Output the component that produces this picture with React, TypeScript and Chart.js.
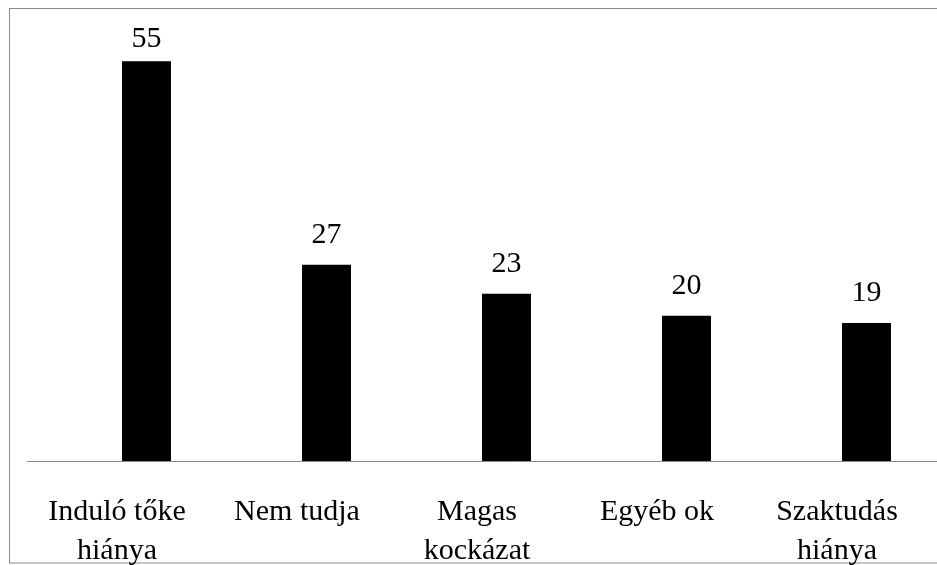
import React, { useEffect, useRef } from "react";
import { Chart, registerables } from "chart.js";

Chart.register(...registerables);

const categories: string[][] = [
  ["Induló tőke", "hiánya"],
  ["Nem tudja"],
  ["Magas", "kockázat"],
  ["Egyéb ok"],
  ["Szaktudás", "hiánya"],
];
const values: number[] = [55, 27, 23, 20, 19];

const FONT = "'Liberation Serif', 'Times New Roman', serif";

const framePlugin = {
  id: "frameAndLabels",
  beforeDraw(chart: any) {
    const ctx = chart.ctx;
    ctx.save();
    ctx.fillStyle = "#ffffff";
    ctx.fillRect(0, 0, chart.width, chart.height);
    ctx.strokeStyle = "#8a8a8a";
    ctx.lineWidth = 1;
    ctx.strokeRect(9.5, 8.5, chart.width + 20, 554.5);
    ctx.restore();
  },
  afterDatasetsDraw(chart: any) {
    const ctx = chart.ctx;
    const yScale = chart.scales.y;
    const base = Math.round(yScale.getPixelForValue(0)) + 0.5;
    ctx.save();
    ctx.strokeStyle = "#8a8a8a";
    ctx.lineWidth = 1;
    ctx.beginPath();
    ctx.moveTo(27, base);
    ctx.lineTo(chart.width, base);
    ctx.stroke();
    const meta = chart.getDatasetMeta(0);
    ctx.fillStyle = "#000000";
    ctx.font = `30px ${FONT}`;
    ctx.textAlign = "center";
    ctx.textBaseline = "alphabetic";
    meta.data.forEach((bar: any, i: number) => {
      const y = Math.max(bar.y - 22, chart.chartArea.top + 22);
      ctx.fillText(String(values[i]), bar.x, y);
    });
    ctx.restore();
  },
};

export default function App() {
  const ref = useRef<HTMLCanvasElement>(null);
  useEffect(() => {
    document.body.style.margin = "0";
    document.body.style.overflow = "hidden";
    const chart = new Chart(ref.current as HTMLCanvasElement, {
      type: "bar",
      data: {
        labels: categories,
        datasets: [
          {
            data: values,
            backgroundColor: "#000000",
            borderWidth: 0,
            barPercentage: 0.272,
            categoryPercentage: 1,
          },
        ],
      },
      options: {
        responsive: false,
        animation: false,
        layout: { padding: { left: 56.5, right: 43.5, top: 25, bottom: 0 } },
        plugins: { legend: { display: false }, tooltip: { enabled: false } },
        scales: {
          x: {
            grid: { display: false },
            border: { display: false },
            ticks: {
              color: "#000000",
              font: { family: FONT, size: 30, lineHeight: 1.3 },
              padding: 24,
              labelOffset: -29.5,
              maxRotation: 0,
              autoSkip: false,
            },
            afterFit: (scale: any) => {
              scale.height = 104;
            },
          },
          y: {
            display: false,
            min: 0,
            max: 60,
          },
        },
      },
      plugins: [framePlugin],
    });
    return () => chart.destroy();
  }, []);
  return (
    <div style={{ position: "fixed", left: 0, top: 0, width: 937, height: 565, overflow: "hidden", background: "#fff" }}>
      <canvas ref={ref} width={1000} height={565} style={{ display: "block" }} />
    </div>
  );
}
